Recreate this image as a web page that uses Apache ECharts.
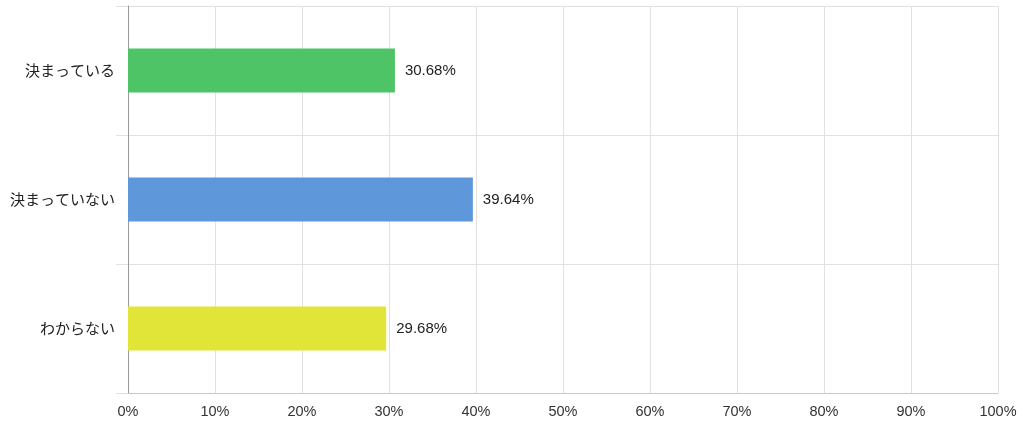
<!DOCTYPE html>
<html><head><meta charset="utf-8">
<script src="https://cdn.jsdelivr.net/npm/echarts@6/dist/echarts.min.js"></script>
<style>html,body{margin:0;padding:0;background:#fff}#c{width:1024px;height:427px}</style>
</head><body><div id="c"></div>
<script>
const categories = ['決まっている', '決まっていない', 'わからない'];
const values = [30.68, 39.64, 29.68];
const colors = ['#4fc466', '#5e97da', '#e1e537'];
const xTicks = [0, 10, 20, 30, 40, 50, 60, 70, 80, 90, 100];

const chart = echarts.init(document.getElementById('c'));
chart.setOption({
  animation: false,
  grid: { left: 128, right: 26, top: 6, bottom: 34, containLabel: false },
  xAxis: {
    type: 'value', min: 0, max: 100, interval: 10,
    axisLine: { show: true, lineStyle: { color: '#c8c8c8' } },
    axisTick: { show: false },
    splitLine: { show: true, lineStyle: { color: '#e2e2e2' } },
    axisLabel: { formatter: v => xTicks.includes(v) ? v + '%' : '', color: '#333', fontSize: 14.5, margin: 11, fontFamily: 'Liberation Sans, Arial, sans-serif' }
  },
  yAxis: {
    type: 'category', data: categories, inverse: true,
    axisLine: { show: true, lineStyle: { color: '#999' } },
    axisTick: { show: true, length: 12, lineStyle: { color: '#e2e2e2' } },
    splitLine: { show: true, lineStyle: { color: '#e2e2e2' } },
    axisLabel: { color: '#222', fontSize: 15, margin: 13, fontFamily: 'Noto Sans CJK JP, sans-serif' }
  },
  series: [{
    type: 'bar',
    data: values.map((v, i) => ({ value: v, itemStyle: { color: colors[i] } })),
    barWidth: '34%',
    label: { show: true, position: 'right', distance: 10, formatter: p => p.value.toFixed(2) + '%', color: '#222', fontSize: 15, fontFamily: 'Liberation Sans, Arial, sans-serif' }
  }]
});
</script></body></html>
